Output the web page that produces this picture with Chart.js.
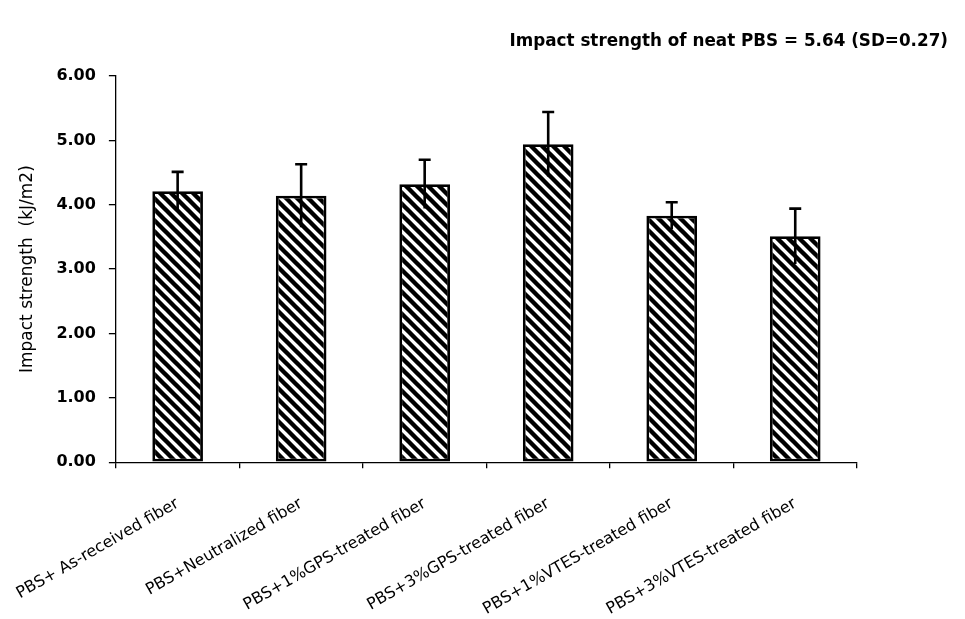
<!DOCTYPE html>
<html>
<head>
<meta charset="utf-8">
<script src="https://cdn.jsdelivr.net/npm/chart.js@4.4.1/dist/chart.umd.min.js"></script>
<style>
html,body{margin:0;padding:0;background:#fff;}
#wrap{width:965px;height:619px;position:relative;}
</style>
</head>
<body>
<div id="wrap"><canvas id="c" width="965" height="619"></canvas></div>
<script>
const categories = ["PBS+ As-received fiber","PBS+Neutralized fiber","PBS+1%GPS-treated fiber","PBS+3%GPS-treated fiber","PBS+1%VTES-treated fiber","PBS+3%VTES-treated fiber"];
const impactMeans = [4.21, 4.14, 4.32, 4.94, 3.83, 3.51];
const impactSD = [0.30, 0.49, 0.38, 0.50, 0.21, 0.43];
const yTicks = [0, 1, 2, 3, 4, 5, 6];
const noteText = "Impact strength of neat PBS = 5.64 (SD=0.27)";
const yTitle = "Impact strength  (kJ/m2)";

function makeHatch(){
  const s = 11;
  const p = document.createElement('canvas');
  p.width = s; p.height = s;
  const g = p.getContext('2d');
  g.fillStyle = '#fff'; g.fillRect(0,0,s,s);
  g.strokeStyle = '#000'; g.lineWidth = 4.4;
  g.beginPath();
  g.moveTo(-s, -s); g.lineTo(2*s, 2*s);
  g.moveTo(0, -s); g.lineTo(2*s, s);
  g.moveTo(-s, 0); g.lineTo(s, 2*s);
  g.stroke();
  return g.createPattern(p, 'repeat');
}

const errorBars = {
  id: 'errorBars',
  afterDatasetsDraw(chart){
    const ctx = chart.ctx;
    const meta = chart.getDatasetMeta(0);
    const y = chart.scales.y;
    ctx.save();
    ctx.strokeStyle = '#000';
    ctx.lineWidth = 2.6;
    meta.data.forEach((bar, i) => {
      const x = bar.x;
      const top = y.getPixelForValue(impactMeans[i] + impactSD[i]);
      const bot = y.getPixelForValue(impactMeans[i] - impactSD[i]);
      ctx.beginPath();
      ctx.moveTo(x, top); ctx.lineTo(x, bot);
      ctx.moveTo(x - 6, top); ctx.lineTo(x + 6, top);
      ctx.stroke();
    });
    ctx.restore();
  }
};

const note = {
  id: 'note',
  afterDraw(chart){
    const ctx = chart.ctx;
    ctx.save();
    ctx.font = 'bold 16.8px "DejaVu Sans"';
    ctx.fillStyle = '#000';
    ctx.textAlign = 'right';
    ctx.textBaseline = 'middle';
    ctx.fillText(noteText, chart.width - 17, 42);
    ctx.restore();
  }
};

new Chart(document.getElementById('c'), {
  type: 'bar',
  data: {
    labels: categories,
    datasets: [{
      data: impactMeans,
      backgroundColor: makeHatch(),
      borderColor: '#000',
      borderWidth: 2.8,
      borderSkipped: false,
      categoryPercentage: 1.0,
      barPercentage: 0.41
    }]
  },
  options: {
    responsive: false,
    animation: false,
    devicePixelRatio: 1,
    layout: { padding: { top: 76, right: 108, left: 17, bottom: -26 } },
    plugins: { legend: { display: false }, tooltip: { enabled: false }, title: { display: false } },
    scales: {
      x: {
        afterFit(scale){ scale.paddingLeft = 0; },
        grid: { display: true, drawOnChartArea: false, drawTicks: true, tickLength: 6, color: '#000', lineWidth: 1.3, offset: true },
        border: { display: true, color: '#000', width: 1.3 },
        ticks: { color: '#000', font: { family: 'DejaVu Sans', size: 16 }, minRotation: 30, maxRotation: 30, padding: 26, autoSkip: false }
      },
      y: {
        min: 0, max: 6,
        afterBuildTicks(scale){ scale.ticks = yTicks.map(v => ({ value: v })); },
        grid: { display: true, drawOnChartArea: false, drawTicks: true, tickLength: 7, color: '#000', lineWidth: 1.3 },
        border: { display: true, color: '#000', width: 1.3 },
        ticks: { color: '#000', font: { family: 'DejaVu Sans', size: 16, weight: 'bold' }, padding: 13, callback: v => Number(v).toFixed(2) },
        title: { display: true, text: yTitle, color: '#000', font: { family: 'DejaVu Sans', size: 17 }, padding: { top: 0, bottom: 6 } }
      }
    }
  },
  plugins: [errorBars, note]
});
</script>
</body>
</html>
